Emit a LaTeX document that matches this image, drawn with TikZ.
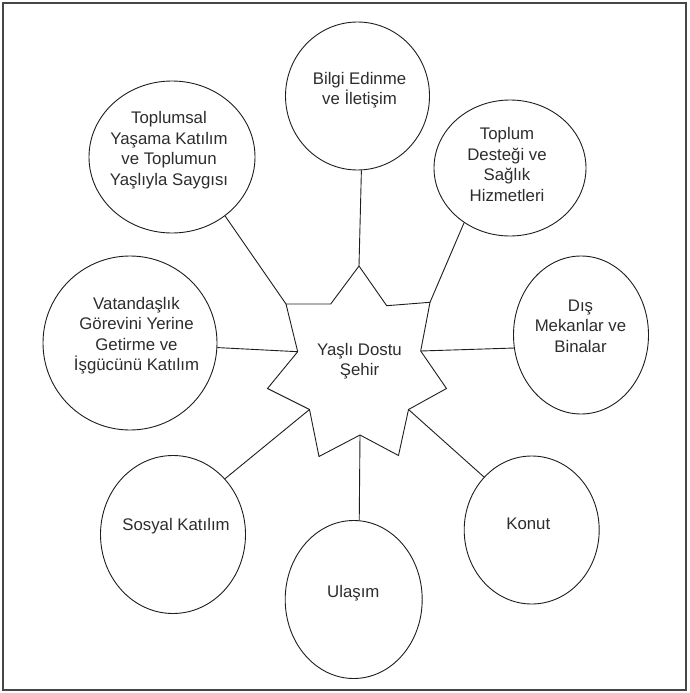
\documentclass[tikz,border=0pt]{standalone}
\usepackage{fontspec}
\setmainfont{Liberation Sans}
\usetikzlibrary{shapes.geometric}
\definecolor{inkc}{RGB}{30,30,30}
\definecolor{txtc}{RGB}{45,45,45}
\definecolor{framec}{RGB}{70,70,70}
\tikzset{
  bubble/.style={draw=inkc, line width=0.9pt, ellipse, inner sep=0pt, fill=white},
  lbl/.style={text=txtc, align=center, inner sep=0pt, font=\fontsize{16.8}{20.5}\selectfont},
  link/.style={draw=inkc, line width=0.9pt},
  starline/.style={draw=inkc, line width=0.9pt, line join=miter}
}
\begin{document}
\begin{tikzpicture}[x=1pt,y=-1pt]
\useasboundingbox (0,0) rectangle (689,693);
\draw[framec, line width=1.3pt] (3,3) rectangle (686,690);

% star vertices
\coordinate (s1) at (359,266);
\coordinate (s2) at (386.7,305.7);
\coordinate (s3) at (430,302.3);
\coordinate (s4) at (420.7,351);
\coordinate (s5) at (446.5,388.5);
\coordinate (s6) at (408.5,409.5);
\coordinate (s7) at (398.5,455.5);
\coordinate (s8) at (360,435);
\coordinate (s9) at (319,456.5);
\coordinate (s10) at (309.5,409.5);
\coordinate (s11) at (267.5,388.5);
\coordinate (s12) at (297.7,351.7);
\coordinate (s13) at (286,304);
\coordinate (s14) at (330.7,304);
\draw[starline] (s1) -- (s2) -- (s3) -- (s4) -- (s5) -- (s6) -- (s7) -- (s8) -- (s9) -- (s10) -- (s11) -- (s12) -- (s13) -- (s14) -- cycle;
\node[lbl] (starT) at (359.5,361) {Yaşlı Dostu\\Şehir};

% bubbles
\node[bubble, minimum width=144pt, minimum height=148pt] (bilgi) at (357.5,96) {};
\node[bubble, minimum width=166pt, minimum height=152pt] (toplumsal) at (172,157) {};
\node[bubble, minimum width=152pt, minimum height=136pt] (destek) at (510,168) {};
\node[bubble, minimum width=174pt, minimum height=174pt] (vatan) at (130,343) {};
\node[bubble, minimum width=135pt, minimum height=158pt] (dis) at (581,335) {};
\node[bubble, minimum width=145pt, minimum height=158pt] (sosyal) at (173,534.5) {};
\node[bubble, minimum width=137pt, minimum height=158pt] (ulasim) at (353.7,599.5) {};
\node[bubble, minimum width=135pt, minimum height=148pt] (konut) at (531.7,530) {};

% labels
\node[lbl] (bilgiT) at (359.5,90) {Bilgi Edinme\\ve İletişim};
\node[lbl] (toplumsalT) at (169,150) {Toplumsal\\Yaşama Katılım\\ve Toplumun\\Yaşlıyla Saygısı};
\node[lbl] (destekT) at (507,164.5) {Toplum\\Desteği ve\\Sağlık\\Hizmetleri};
\node[lbl] (vatanT) at (136.5,335.5) {Vatandaşlık\\Görevini Yerine\\Getirme ve\\İşgücünü Katılım};
\node[lbl] (disT) at (580.5,326) {Dış\\Mekanlar ve\\Binalar};
\node[lbl] (sosyalT) at (176,526) {Sosyal Katılım};
\node[lbl] (ulasimT) at (353.3,593.5) {Ulaşım};
\node[lbl] (konutT) at (528.3,523.5) {Konut};

% connectors
\draw[link] (bilgi.-87.5) -- (s1);
\draw[link] (toplumsal.-48.3) -- (s13);
\draw[link] (destek.-130.6) -- (s3);
\draw[link] (vatan.-3.5) -- (s12);
\draw[link] (dis.191.9) -- (s4);
\draw[link] (sosyal.47.3) -- (s10);
\draw[link] (konut.132.6) -- (s6);
\draw[link] (ulasim.86.2) -- (s8);
\end{tikzpicture}
\end{document}
